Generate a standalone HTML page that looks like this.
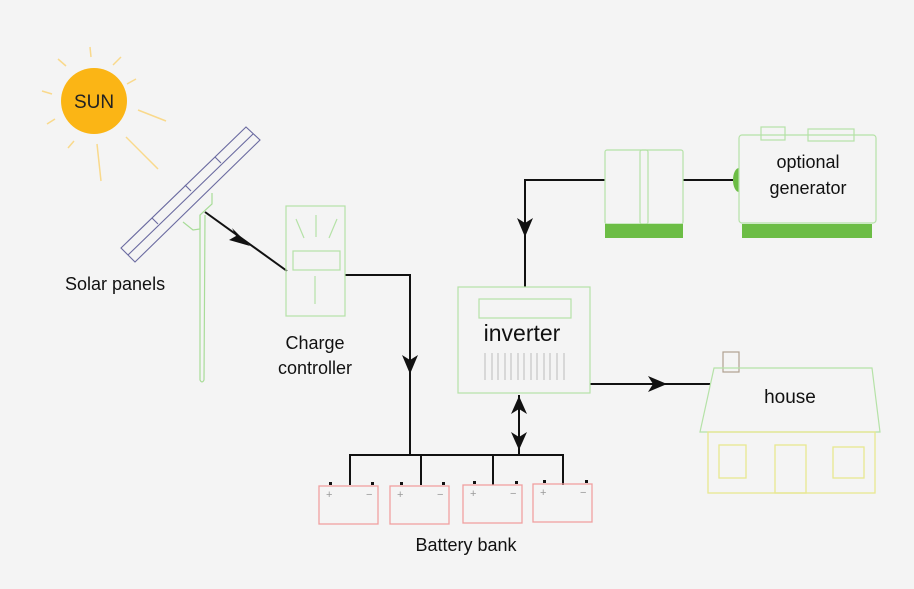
<!DOCTYPE html>
<html><head><style>
html,body{margin:0;padding:0;background:#f4f4f4;}
svg{display:block;font-family:"Liberation Sans",sans-serif;}
</style></head><body>
<svg width="914" height="589" viewBox="0 0 914 589" xmlns="http://www.w3.org/2000/svg">
<rect width="914" height="589" fill="#f4f4f4"/>
<!-- sun rays -->
<g stroke="#f9d98c" stroke-width="1.5">
<line x1="90" y1="47" x2="91" y2="57"/>
<line x1="58" y1="59" x2="66" y2="66"/>
<line x1="113" y1="65" x2="121" y2="57"/>
<line x1="42" y1="91" x2="52" y2="94"/>
<line x1="127" y1="84" x2="136" y2="79"/>
<line x1="47" y1="124" x2="55" y2="119"/>
<line x1="138" y1="110" x2="166" y2="121"/>
<line x1="68" y1="148" x2="74" y2="141"/>
<line x1="97" y1="144" x2="101" y2="181"/>
<line x1="126" y1="137" x2="158" y2="169"/>
</g>
<circle cx="94" cy="101" r="33" fill="#fbb515"/>
<text x="94" y="108" font-size="19" text-anchor="middle" fill="#222">SUN</text>
<!-- pole -->
<path d="M200 215 L200 380 Q202 384 204 380 L205 215" fill="none" stroke="#a8dc98" stroke-width="1.2"/>
<path d="M183 222 L193 230 L200 229 L200 215 L212 204 L212 193" fill="none" stroke="#a8dc98" stroke-width="1.2"/>
<!-- solar panel -->
<g fill="none" stroke="#6a6aa0" stroke-width="1.1">
<polygon points="121,248 246,127 260,140 135,262"/>
<line x1="128" y1="255" x2="253" y2="134"/>
<line x1="152" y1="218" x2="158" y2="224"/>
<line x1="185" y1="185" x2="191" y2="191"/>
<line x1="215" y1="157" x2="221" y2="163"/>
</g>
<!-- wires -->
<g fill="none" stroke="#111" stroke-width="2">
<line x1="205" y1="212" x2="287" y2="271"/>
<polyline points="345,275 410,275 410,455"/>
<polyline points="350,485 350,455 563,455 563,485"/>
<line x1="421" y1="455" x2="421" y2="485"/>
<line x1="493" y1="455" x2="493" y2="485"/>
<line x1="519" y1="395" x2="519" y2="455"/>
<polyline points="525,287 525,180 605,180"/>
<line x1="683" y1="180" x2="733" y2="180"/>
<line x1="590" y1="384" x2="710" y2="384"/>
</g>
<!-- arrowheads -->
<g fill="#111">
<path d="M250 246 L229 240 L236 236 L232 228 Z"/>
<path d="M410 374 L402 355 L410 360 L418 355 Z"/>
<path d="M525 237 L517 218 L525 223 L533 218 Z"/>
<path d="M667 384 L648 376 L653 384 L648 392 Z"/>
<path d="M519 396 L511 414 L519 409 L527 414 Z"/>
<path d="M519 450 L511 432 L519 437 L527 432 Z"/>
</g>
<!-- charge controller -->
<g fill="none" stroke="#b5e2a7" stroke-width="1.2">
<rect x="286" y="206" width="59" height="110"/>
<rect x="293" y="251" width="47" height="19"/>
<line x1="296" y1="219" x2="304" y2="238"/>
<line x1="316" y1="215" x2="316" y2="237"/>
<line x1="337" y1="219" x2="329" y2="238"/>
<line x1="315" y1="276" x2="315" y2="304"/>
</g>
<text x="315" y="349" font-size="18" text-anchor="middle" fill="#111">Charge</text>
<text x="315" y="374" font-size="18" text-anchor="middle" fill="#111">controller</text>
<text x="65" y="290" font-size="18" fill="#111">Solar panels</text>
<!-- batteries -->
<g fill="none" stroke="#f0a0a0" stroke-width="1.3">
<rect x="319" y="486" width="59" height="38"/>
<rect x="390" y="486" width="59" height="38"/>
<rect x="463" y="485" width="59" height="38"/>
<rect x="533" y="484" width="59" height="38"/>
</g>
<g fill="#111">
<rect x="329" y="482" width="3" height="3"/><rect x="371" y="482" width="3" height="3"/>
<rect x="400" y="482" width="3" height="3"/><rect x="442" y="482" width="3" height="3"/>
<rect x="473" y="481" width="3" height="3"/><rect x="515" y="481" width="3" height="3"/>
<rect x="543" y="480" width="3" height="3"/><rect x="585" y="480" width="3" height="3"/>
</g>
<g fill="#999" font-size="11">
<text x="326" y="498">+</text><text x="366" y="498">−</text>
<text x="397" y="498">+</text><text x="437" y="498">−</text>
<text x="470" y="497">+</text><text x="510" y="497">−</text>
<text x="540" y="496">+</text><text x="580" y="496">−</text>
</g>
<text x="466" y="551" font-size="18" text-anchor="middle" fill="#111">Battery bank</text>
<!-- inverter -->
<g fill="none" stroke="#b5e2a7" stroke-width="1.2">
<rect x="458" y="287" width="132" height="106"/>
<rect x="479" y="299" width="92" height="19"/>
</g>
<text x="522" y="341" font-size="23" text-anchor="middle" fill="#111">inverter</text>
<g stroke="#bbb" stroke-width="1">
<line x1="485" y1="353" x2="485" y2="380"/><line x1="492" y1="353" x2="492" y2="380"/><line x1="498" y1="353" x2="498" y2="380"/><line x1="505" y1="353" x2="505" y2="380"/><line x1="511" y1="353" x2="511" y2="380"/><line x1="518" y1="353" x2="518" y2="380"/><line x1="524" y1="353" x2="524" y2="380"/><line x1="531" y1="353" x2="531" y2="380"/><line x1="537" y1="353" x2="537" y2="380"/><line x1="544" y1="353" x2="544" y2="380"/><line x1="550" y1="353" x2="550" y2="380"/><line x1="557" y1="353" x2="557" y2="380"/><line x1="564" y1="353" x2="564" y2="380"/>
</g>
<!-- transfer switch -->
<g fill="none" stroke="#b5e2a7" stroke-width="1.2">
<rect x="605" y="150" width="78" height="74" rx="2"/>
<rect x="640" y="150" width="8" height="74" rx="2"/>
</g>
<rect x="605" y="224" width="78" height="14" fill="#6cbd45"/>
<!-- generator -->
<path d="M739 168 A6 12 0 0 0 739 192 Z" fill="#6cbd45"/>
<g fill="none" stroke="#b5e2a7" stroke-width="1.2">
<rect x="739" y="135" width="137" height="88" rx="3"/>
<rect x="761" y="127" width="24" height="13"/>
<rect x="808" y="129" width="46" height="12"/>
</g>
<rect x="742" y="224" width="130" height="14" fill="#6cbd45"/>
<text x="808" y="168" font-size="18" text-anchor="middle" fill="#111">optional</text>
<text x="808" y="194" font-size="18" text-anchor="middle" fill="#111">generator</text>
<!-- house -->
<rect x="723" y="352" width="16" height="20" fill="none" stroke="#b0a090" stroke-width="1.2"/>
<polygon points="714,368 872,368 880,432 700,432" fill="none" stroke="#b5e2a7" stroke-width="1.2"/>
<g fill="none" stroke="#e8e890" stroke-width="1.3">
<rect x="708" y="432" width="167" height="61"/>
<rect x="719" y="445" width="27" height="33"/>
<rect x="775" y="445" width="31" height="48"/>
<rect x="833" y="447" width="31" height="31"/>
</g>
<text x="790" y="403" font-size="19" text-anchor="middle" fill="#111">house</text>
</svg>
</body></html>
